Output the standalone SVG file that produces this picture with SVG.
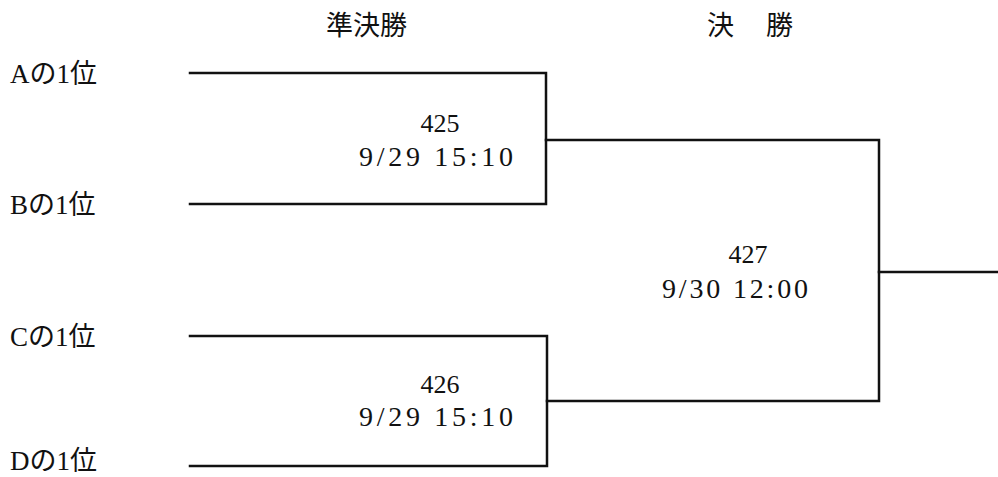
<svg xmlns="http://www.w3.org/2000/svg" width="998" height="477" viewBox="0 0 998 477">
  <style>
    .bg { fill: #ffffff; }
    .line { fill: none; stroke: #111111; stroke-width: 2.5; stroke-linecap: square; stroke-linejoin: miter; }
    .lbl { font-family: "Liberation Serif", "Noto Sans CJK JP", serif; font-size: 27px; fill: #111111; }
    .title { font-family: "Noto Sans CJK JP", "Liberation Serif", serif; font-size: 27px; fill: #111111; }
    .num { font-family: "Liberation Serif", "Noto Sans CJK JP", serif; font-size: 26px; fill: #111111; }
    .date { font-family: "Liberation Serif", "Noto Sans CJK JP", serif; font-size: 28px; fill: #111111; }
  </style>
  <rect class="bg" x="0" y="0" width="998" height="477"/>

  <g id="titles">
    <text class="title" x="326" y="35">準決勝</text>
    <text class="title" x="707" y="35" textLength="86" lengthAdjust="spacing">決　勝</text>
  </g>

  <g id="team-a"><text class="lbl" x="10" y="83">Aの1位</text></g>
  <g id="team-b"><text class="lbl" x="10" y="214">Bの1位</text></g>
  <g id="team-c"><text class="lbl" x="10" y="346">Cの1位</text></g>
  <g id="team-d"><text class="lbl" x="10" y="470">Dの1位</text></g>

  <g id="connectors">
    <path class="line" d="M190,73 H546 V204 H190"/>
    <path class="line" d="M190,336 H547 V466 H190"/>
    <path class="line" d="M546,140 H879 V401 H547"/>
    <path class="line" d="M879,272 H998"/>
  </g>

  <g id="match-425">
    <text class="num" x="440" y="132" text-anchor="middle">425</text>
    <text class="date" x="359" y="166" textLength="154" lengthAdjust="spacing">9/29 15:10</text>
  </g>
  <g id="match-426">
    <text class="num" x="440" y="393" text-anchor="middle">426</text>
    <text class="date" x="359" y="426" textLength="154" lengthAdjust="spacing">9/29 15:10</text>
  </g>
  <g id="match-427">
    <text class="num" x="748" y="263" text-anchor="middle">427</text>
    <text class="date" x="662" y="298" textLength="146" lengthAdjust="spacing">9/30 12:00</text>
  </g>
</svg>
